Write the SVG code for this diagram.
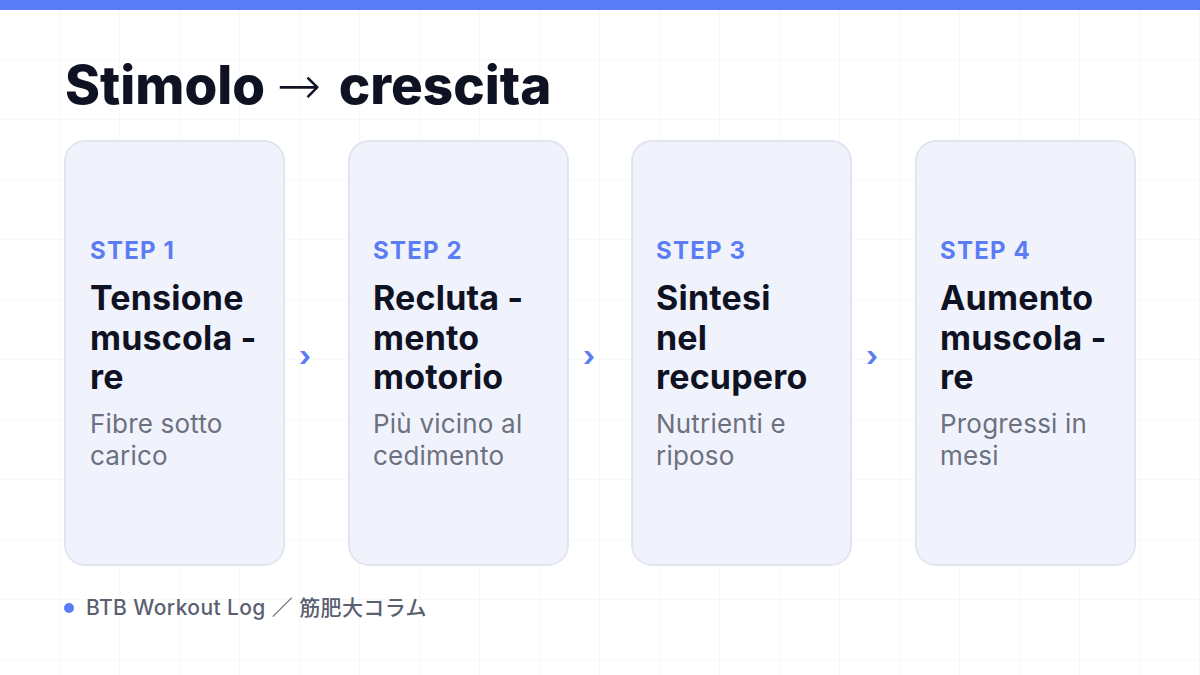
<svg xmlns="http://www.w3.org/2000/svg" width="1200" height="675" viewBox="0 0 1200 675">
<defs>
<pattern id="grid" width="60" height="60" patternUnits="userSpaceOnUse">
<path d="M60 0V60M0 60H60" fill="none" stroke="#eef0f5" stroke-width="1"/>
</pattern>
<style>
.card{fill:#f1f3fc;stroke:#e1e5f0;stroke-width:2}
.step{font-family:Inter,"Liberation Sans",sans-serif;font-weight:700;font-size:24px;letter-spacing:1.2px;fill:#5b7cf5}
.ttl{font-family:Inter,"Liberation Sans",sans-serif;font-weight:700;font-size:34px;letter-spacing:0.2px;fill:#0f1222}
.desc{font-family:Inter,"Liberation Sans",sans-serif;font-weight:400;font-size:26px;letter-spacing:0.2px;fill:#6b7180}
.chev{font-family:Inter,"Liberation Sans",sans-serif;font-weight:700;font-size:28px;fill:#5b7cf5}
</style>
</defs>
<rect width="1200" height="675" fill="#ffffff"/>
<rect width="1200" height="675" fill="url(#grid)"/>
<rect width="1200" height="10" fill="#5b7cf7"/>
<text x="65" y="104" font-family="Inter,'Liberation Sans',sans-serif" font-weight="800" font-size="53" fill="#0f1222" letter-spacing="0">Stimolo <tspan font-weight="300" font-family="'DejaVu Sans',sans-serif">→</tspan><tspan dx="6"> crescita</tspan></text>

<g id="card1">
<rect class="card" x="65" y="141" width="219" height="424" rx="20"/>
<text class="step" x="90" y="259">STEP 1</text>
<text class="ttl" x="90" y="310">Tensione</text>
<text class="ttl" x="90" y="350">muscola<tspan dx="8">-</tspan></text>
<text class="ttl" x="90" y="389">re</text>
<text class="desc" x="90" y="433">Fibre sotto</text>
<text class="desc" x="90" y="465">carico</text>
</g>
<g id="card2">
<rect class="card" x="349" y="141" width="219" height="424" rx="20"/>
<text class="step" x="373" y="259">STEP 2</text>
<text class="ttl" x="373" y="310">Recluta<tspan dx="8">-</tspan></text>
<text class="ttl" x="373" y="350">mento</text>
<text class="ttl" x="373" y="389">motorio</text>
<text class="desc" x="373" y="433">Più vicino al</text>
<text class="desc" x="373" y="465">cedimento</text>
</g>
<g id="card3">
<rect class="card" x="632" y="141" width="219" height="424" rx="20"/>
<text class="step" x="656" y="259">STEP 3</text>
<text class="ttl" x="656" y="310">Sintesi</text>
<text class="ttl" x="656" y="350">nel</text>
<text class="ttl" x="656" y="389">recupero</text>
<text class="desc" x="656" y="433">Nutrienti e</text>
<text class="desc" x="656" y="465">riposo</text>
</g>
<g id="card4">
<rect class="card" x="916" y="141" width="219" height="424" rx="20"/>
<text class="step" x="940" y="259">STEP 4</text>
<text class="ttl" x="940" y="310">Aumento</text>
<text class="ttl" x="940" y="350">muscola<tspan dx="8">-</tspan></text>
<text class="ttl" x="940" y="389">re</text>
<text class="desc" x="940" y="433">Progressi in</text>
<text class="desc" x="940" y="465">mesi</text>
</g>
<g id="connectors">
<text class="chev" x="299" y="366">›</text>
<text class="chev" x="583" y="366">›</text>
<text class="chev" x="866" y="366">›</text>
</g>
<g id="footer">
<circle cx="69" cy="608" r="5" fill="#5b7cf5"/>
<text x="86" y="615" font-family="Inter,'Liberation Sans','Noto Sans CJK JP',sans-serif" font-size="21" font-weight="500" letter-spacing="0.4" fill="#5a6070">BTB Workout Log ／ 筋肥大コラム</text>
</g>
</svg>
